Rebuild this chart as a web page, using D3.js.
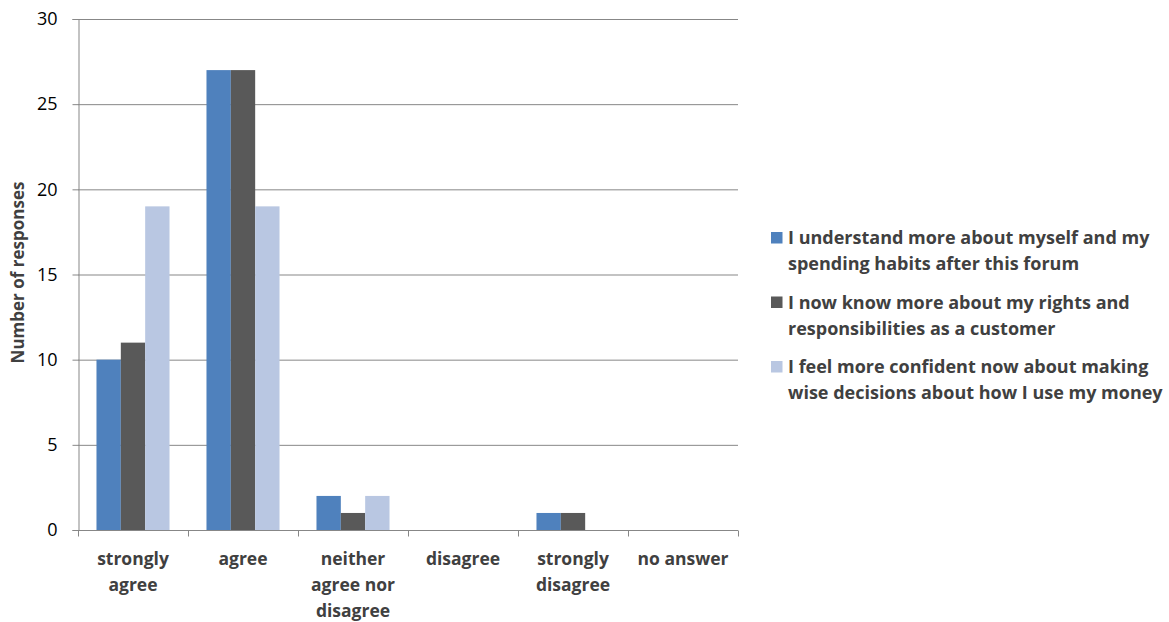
<!DOCTYPE html>
<html>
<head>
<meta charset="utf-8">
<script src="https://cdn.jsdelivr.net/npm/d3@7"></script>
<style>
  html, body { margin: 0; padding: 0; background: #fff; }
  svg { display: block; font-family: "Open Sans", sans-serif; }
</style>
</head>
<body>
<svg id="chart" width="1169" height="622"></svg>
<script>
// Survey responses per answer category
const categories = [
  ["strongly", "agree"],
  ["agree"],
  ["neither", "agree nor", "disagree"],
  ["disagree"],
  ["strongly", "disagree"],
  ["no answer"]
];
const seriesNames = [
  ["I understand more about myself and my", "spending habits after this forum"],
  ["I now know more about my rights and", "responsibilities as a customer"],
  ["I feel more confident now about making", "wise decisions about how I use my money"]
];
const understandValues = [10, 27, 2, 0, 1, 0];
const rightsValues     = [11, 27, 1, 0, 1, 0];
const confidentValues  = [19, 19, 2, 0, 0, 0];
const yTicks = [0, 5, 10, 15, 20, 25, 30];
const colors = ["#4F81BD", "#595959", "#B9C7E2"];

const series = [understandValues, rightsValues, confidentValues];
const catKeys = categories.map(c => c.join(" "));

const svg = d3.select("#chart");
const plot = { left: 78, right: 738, top: 19, bottom: 530 };

const x0 = d3.scaleBand()
  .domain(catKeys)
  .range([plot.left, plot.right])
  .paddingInner(0.336)
  .paddingOuter(0.168);
const x1 = d3.scaleBand()
  .domain(d3.range(series.length))
  .range([0, x0.bandwidth()]);
const y = d3.scaleLinear().domain([0, 30]).range([plot.bottom, plot.top]);

// horizontal gridlines
svg.append("g")
  .selectAll("line")
  .data(yTicks.filter(t => t > 0))
  .join("line")
  .attr("x1", plot.left).attr("x2", plot.right)
  .attr("y1", d => y(d) + 0.5).attr("y2", d => y(d) + 0.5)
  .attr("stroke", "#878787").attr("stroke-width", 1);

// bars
const groups = svg.append("g")
  .selectAll("g")
  .data(catKeys)
  .join("g")
  .attr("transform", d => `translate(${x0(d)},0)`);
groups.selectAll("rect")
  .data((d, i) => series.map((s, k) => ({ k, v: s[i] })))
  .join("rect")
  .attr("x", d => x1(d.k))
  .attr("width", x1.bandwidth())
  .attr("y", d => y(d.v))
  .attr("height", d => y(0) - y(d.v))
  .attr("fill", d => colors[d.k]);

// y axis
const yAxis = svg.append("g")
  .attr("transform", `translate(${plot.left + 0.5},0)`)
  .call(d3.axisLeft(y).tickValues(yTicks).tickSize(6).tickPadding(15));
yAxis.select(".domain").attr("stroke", "#878787");
yAxis.selectAll(".tick line").attr("stroke", "#878787");
yAxis.selectAll(".tick text")
  .attr("font-size", 18).attr("fill", "#000")
  .attr("font-family", "'Open Sans', sans-serif");

// x axis baseline and ticks between categories
const xAxis = svg.append("g").attr("transform", `translate(0,${plot.bottom + 0.5})`);
xAxis.append("line")
  .attr("x1", plot.left).attr("x2", plot.right)
  .attr("stroke", "#878787");
const boundaries = catKeys.map(k => x0(k) - x0.step() * x0.paddingOuter()).concat([plot.right]);
xAxis.selectAll(".btick")
  .data(boundaries)
  .join("line")
  .attr("x1", d => Math.round(d) + 0.5).attr("x2", d => Math.round(d) + 0.5)
  .attr("y1", 0).attr("y2", 6)
  .attr("stroke", "#878787");

// category labels
const catLabels = xAxis.selectAll(".cat")
  .data(categories)
  .join("text")
  .attr("text-anchor", "middle")
  .attr("font-size", 17.5).attr("font-weight", "bold")
  .attr("fill", "#404040")
  .attr("transform", (d, i) => `translate(${x0(catKeys[i]) + x0.bandwidth() / 2},0)`);
catLabels.selectAll("tspan")
  .data(d => d)
  .join("tspan")
  .attr("x", 0)
  .attr("y", (d, i) => 34.5 + i * 26)
  .text(d => d);

// y axis title
svg.append("text")
  .attr("transform", `translate(24,${(plot.top + plot.bottom) / 2 - 2}) rotate(-90)`)
  .attr("text-anchor", "middle")
  .attr("font-size", 17).attr("font-weight", "bold")
  .attr("fill", "#404040")
  .text("Number of responses");

// legend
const legend = svg.append("g").attr("transform", "translate(771,0)");
const items = legend.selectAll("g")
  .data(seriesNames)
  .join("g")
  .attr("transform", (d, i) => `translate(0,${232 + i * 64.5})`);
items.append("rect")
  .attr("width", 11.5).attr("height", 11.5)
  .attr("y", 0)
  .attr("fill", (d, i) => colors[i]);
items.append("text")
  .attr("font-size", 18).attr("font-weight", "bold")
  .attr("fill", "#404040")
  .selectAll("tspan")
  .data(d => d)
  .join("tspan")
  .attr("x", 17)
  .attr("y", (d, i) => 12 + i * 26)
  .text(d => d);
</script>
</body>
</html>
